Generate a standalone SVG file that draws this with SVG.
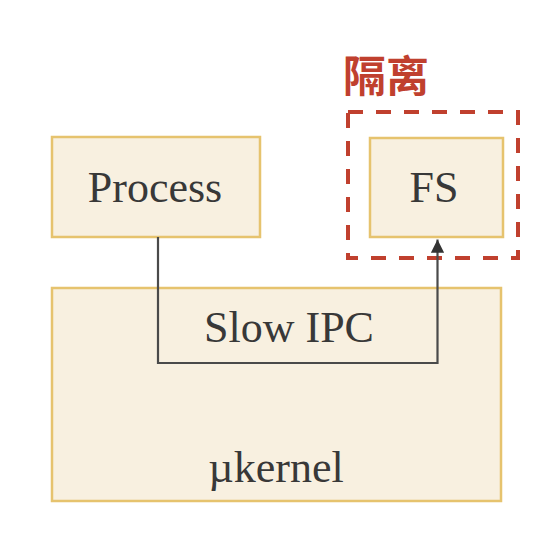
<svg xmlns="http://www.w3.org/2000/svg" width="548" height="550" viewBox="0 0 548 550">
<defs>
<style>
.box{fill:#f8f0e0;stroke:#e6c36e;stroke-width:2.5}
.lbl{font-family:"Liberation Serif","Times New Roman",serif;font-size:44px;fill:#383838;text-anchor:middle}
.conn{fill:none;stroke:#4a4a4a;stroke-width:2.2}
</style>
<marker id="arr" viewBox="0 0 10 10" refX="10" refY="5" markerWidth="6" markerHeight="6" markerUnits="strokeWidth" orient="auto">
<path d="M0,0 L10,5 L0,10 z" fill="#333"/>
</marker>
</defs>
<rect width="548" height="550" fill="#ffffff"/>
<g id="ukernel">
<rect class="box" x="52" y="288" width="449" height="213"/>
<text class="lbl" x="276" y="482">µkernel</text>
</g>
<g id="process">
<rect class="box" x="52" y="137" width="208" height="100"/>
<text class="lbl" x="155" y="202">Process</text>
</g>
<g id="fs">
<rect class="box" x="370" y="138" width="133" height="99"/>
<text class="lbl" x="434" y="202">FS</text>
</g>
<g id="isolation">
<rect x="348" y="112" width="170" height="146" fill="none" stroke="#c0402e" stroke-width="4" stroke-dasharray="15 13"/>
<text x="343" y="92" font-family="'Noto Sans CJK SC','Noto Sans CJK JP',sans-serif" font-size="43" font-weight="bold" fill="#c0402e">隔离</text>
</g>
<g id="connectors">
<path class="conn" d="M158,237 V363 H437.5 V239.5" marker-end="url(#arr)"/>
<text class="lbl" x="289" y="342">Slow IPC</text>
</g>
</svg>
